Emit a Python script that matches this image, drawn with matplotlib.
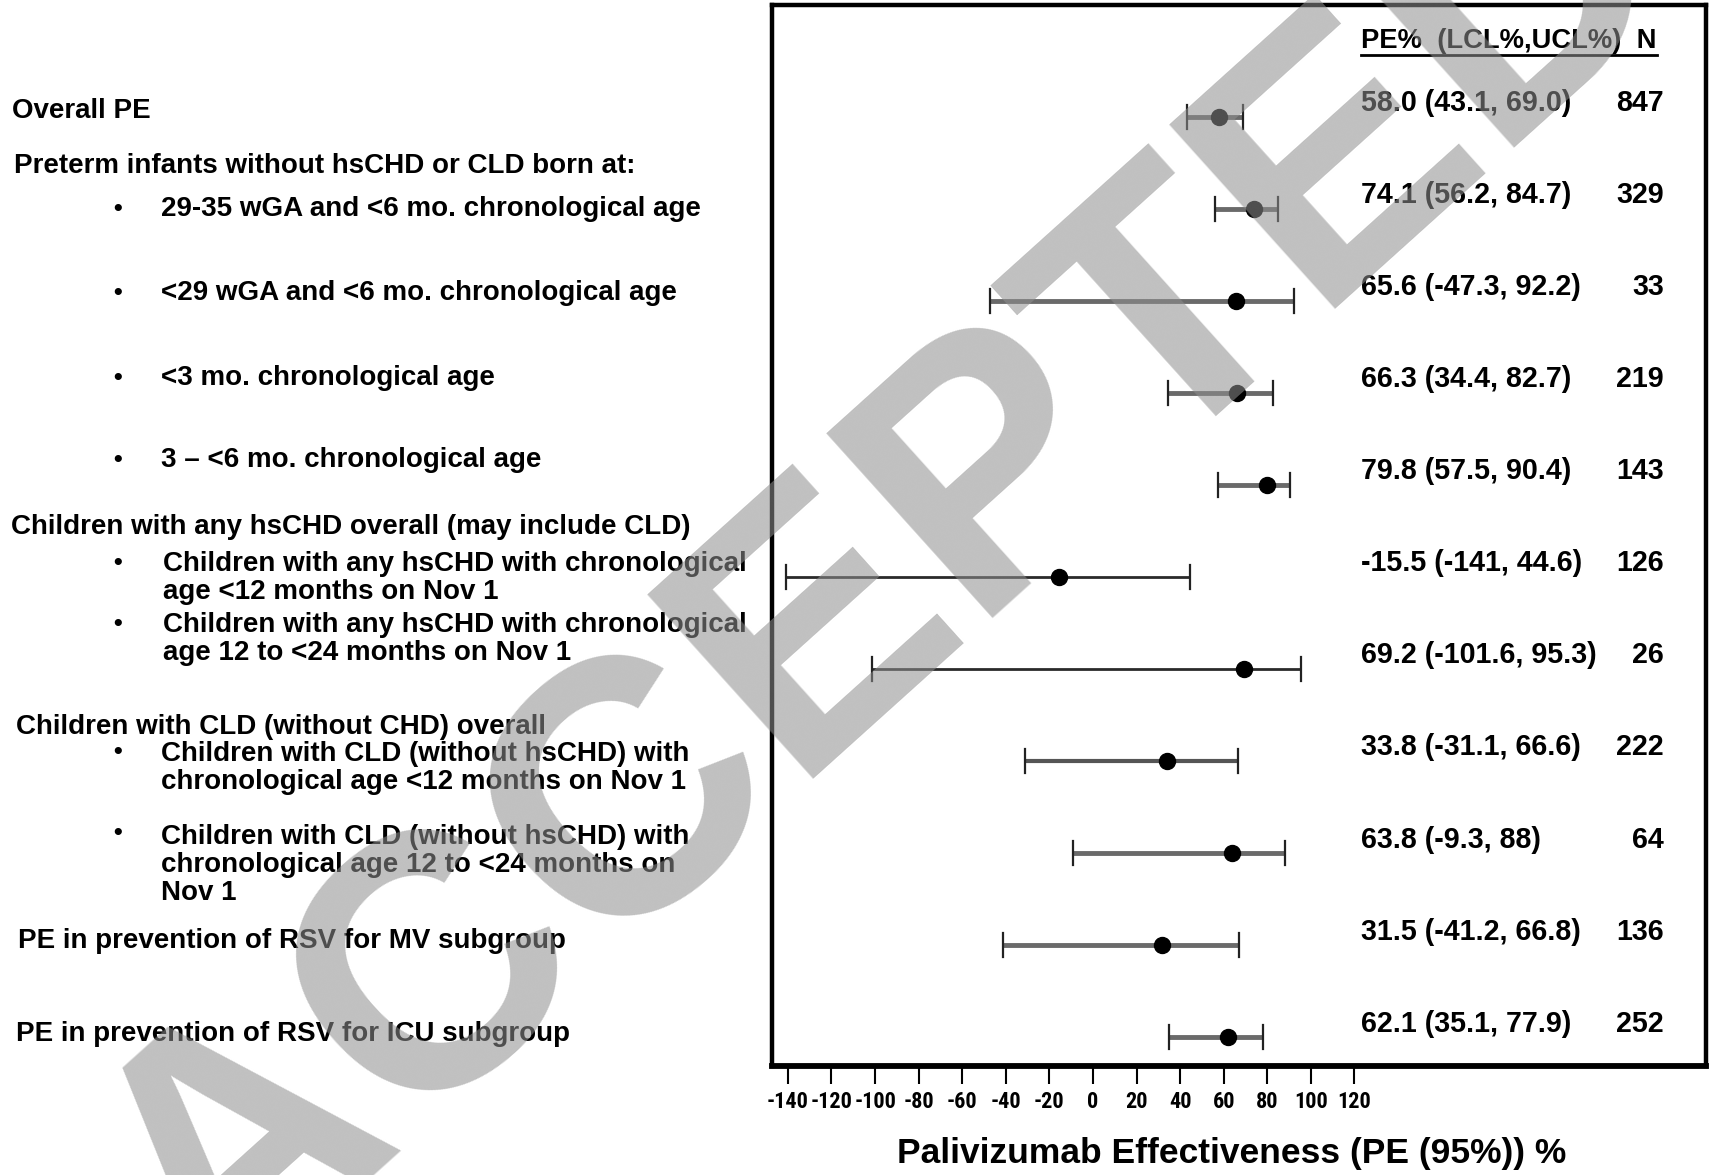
import matplotlib
matplotlib.use("Agg")
import matplotlib.pyplot as plt
from matplotlib.lines import Line2D
from matplotlib import font_manager as fm

# ---------------- data ----------------
pe_values = [58.0, 74.1, 65.6, 66.3, 79.8, -15.5, 69.2, 33.8, 63.8, 31.5, 62.1]
lcl_values = [43.1, 56.2, -47.3, 34.4, 57.5, -141, -101.6, -31.1, -9.3, -41.2, 35.1]
ucl_values = [69.0, 84.7, 92.2, 82.7, 90.4, 44.6, 95.3, 66.6, 88, 66.8, 77.9]
n_values = [847, 329, 33, 219, 143, 126, 26, 222, 64, 136, 252]
ci_labels = ["58.0 (43.1, 69.0)", "74.1 (56.2, 84.7)", "65.6 (-47.3, 92.2)",
             "66.3 (34.4, 82.7)", "79.8 (57.5, 90.4)", "-15.5 (-141, 44.6)",
             "69.2 (-101.6, 95.3)", "33.8 (-31.1, 66.6)", "63.8 (-9.3, 88)",
             "31.5 (-41.2, 66.8)", "62.1 (35.1, 77.9)"]
x_ticks = [-140, -120, -100, -80, -60, -40, -20, 0, 20, 40, 60, 80, 100, 120]
header = "PE%  (LCL%,UCL%)  N"
x_label = "Palivizumab Effectiveness (PE (95%)) %"

# left-hand labels: (text, is_bullet)
left_labels = [
    ("Overall PE", False),
    ("Preterm infants without hsCHD or CLD born at:", False),
    ("29-35 wGA and <6 mo. chronological age", True),
    ("<29 wGA and <6 mo. chronological age", True),
    ("<3 mo. chronological age", True),
    ("3 \u2013 <6 mo. chronological age", True),
    ("Children with any hsCHD overall (may include CLD)", False),
    ("Children with any hsCHD with chronological\nage <12 months on Nov 1", True),
    ("Children with any hsCHD with chronological\nage 12 to <24 months on Nov 1", True),
    ("Children with CLD (without CHD) overall", False),
    ("Children with CLD (without hsCHD) with\nchronological age <12 months on Nov 1", True),
    ("Children with CLD (without hsCHD) with\nchronological age 12 to <24 months on\nNov 1", True),
    ("PE in prevention of RSV for MV subgroup", False),
    ("PE in prevention of RSV for ICU subgroup", False),
]

# ---------------- layout / style ----------------
W, H = 1711, 1175
# (x of text, y centre of text block, y of bullet)
left_pos = [(12, 111, None), (14, 166, None), (161, 209, 209), (161, 293, 293),
            (161, 378, 378), (161, 460, 460), (11, 527, None), (163, 578, 563),
            (163, 639, 624), (16, 727, None), (161, 768, 752), (161, 865, 833),
            (18, 941, None), (16, 1034, None)]
bullet_x = 118
line_colors = ['#6a6a6a'] * 5 + ['#2a2a2a'] * 2 + ['#555555'] + ['#6a6a6a'] * 3
line_widths = [3.5] * 5 + [2.0] * 2 + [3.0] + [3.5] * 3

plt.rcParams['font.family'] = ['Liberation Sans', 'DejaVu Sans']

# choose a condensed face for the tick labels if one is installed
_fonts = {(f.name, f.stretch) for f in fm.fontManager.ttflist}
_names = {f.name for f in fm.fontManager.ttflist}
if 'Liberation Sans Narrow' in _names:
    tick_font = dict(family=['Liberation Sans Narrow'], weight='bold', size=16)
elif 'Roboto Condensed' in _names:
    tick_font = dict(family=['Roboto Condensed'], weight='bold', size=16)
elif any(n == 'DejaVu Sans' and s in ('condensed', 'semi-condensed') for n, s in _fonts):
    tick_font = dict(family=['DejaVu Sans'], stretch='condensed', weight='bold', size=13.5)
else:
    tick_font = dict(family=['Liberation Sans'], weight='bold', size=13.5)

fig = plt.figure(figsize=(W / 100, H / 100), dpi=100)

box_l, box_r, box_t, box_b = 772, 1706, 5, 1066
ax = fig.add_axes([box_l / W, 1 - box_b / H, (box_r - box_l) / W, (box_b - box_t) / H])
ax.set_xlim(-147.3, 281.3)
ax.set_ylim(10.31, -1.214)

ypos = list(range(len(pe_values)))
for i in ypos:
    ax.plot([lcl_values[i], ucl_values[i]], [i, i], color=line_colors[i],
            lw=line_widths[i], solid_capstyle='butt', zorder=2)
    ax.plot([lcl_values[i], lcl_values[i]], [i - 0.13, i + 0.13], color='#222222', lw=1.6, zorder=3)
    ax.plot([ucl_values[i], ucl_values[i]], [i - 0.13, i + 0.13], color='#222222', lw=1.6, zorder=3)
ax.plot(pe_values, ypos, 'o', color='black', markersize=11.5, zorder=4, linestyle='none')

for i in ypos:
    ax.text(123, i - 0.15, ci_labels[i], fontsize=20.6, fontweight='bold',
            ha='left', va='center')
    ax.text(262, i - 0.15, str(n_values[i]), fontsize=20.6, fontweight='bold',
            ha='right', va='center')

hdr = ax.text(123, -0.82, header, fontsize=19.7, fontweight='bold', ha='left', va='center')

ax.set_xticks(x_ticks)
ax.set_xticklabels([str(t) for t in x_ticks], fontdict=tick_font)
ax.set_yticks([])
ax.tick_params(axis='x', length=13, width=1.5, pad=5, color='black')
for s in ax.spines.values():
    s.set_linewidth(3.2)
    s.set_color('black')
ax.spines['bottom'].set_linewidth(4.2)

fig.text(1232 / W, 1 - 1153 / H, x_label, fontsize=25.5, fontweight='bold',
         ha='center', va='center')

# left labels
for (txt, bullet), (x, y, yb) in zip(left_labels, left_pos):
    fig.text(x / W, 1 - y / H, txt, fontsize=20, fontweight='bold', ha='left',
             va='center', linespacing=1.12)
    if bullet:
        fig.text(bullet_x / W, 1 - yb / H, '\u2022',
                 fontsize=18, fontweight='bold', ha='center', va='center')

# underline of header
fig.canvas.draw()
bb = hdr.get_window_extent()
fig.add_artist(Line2D([bb.x0, bb.x1], [bb.y0 - 1, bb.y0 - 1], color='black', lw=2.0,
                      transform=None))

# watermark
fig.text(888 / W, 1 - 578 / H, "ACCEPTED", rotation=42, fontsize=260,
         fontweight='bold', color='#8f8f8f', alpha=0.56, ha='center', va='center',
         rotation_mode='anchor', zorder=10)

fig.savefig("out.png", dpi=100)
